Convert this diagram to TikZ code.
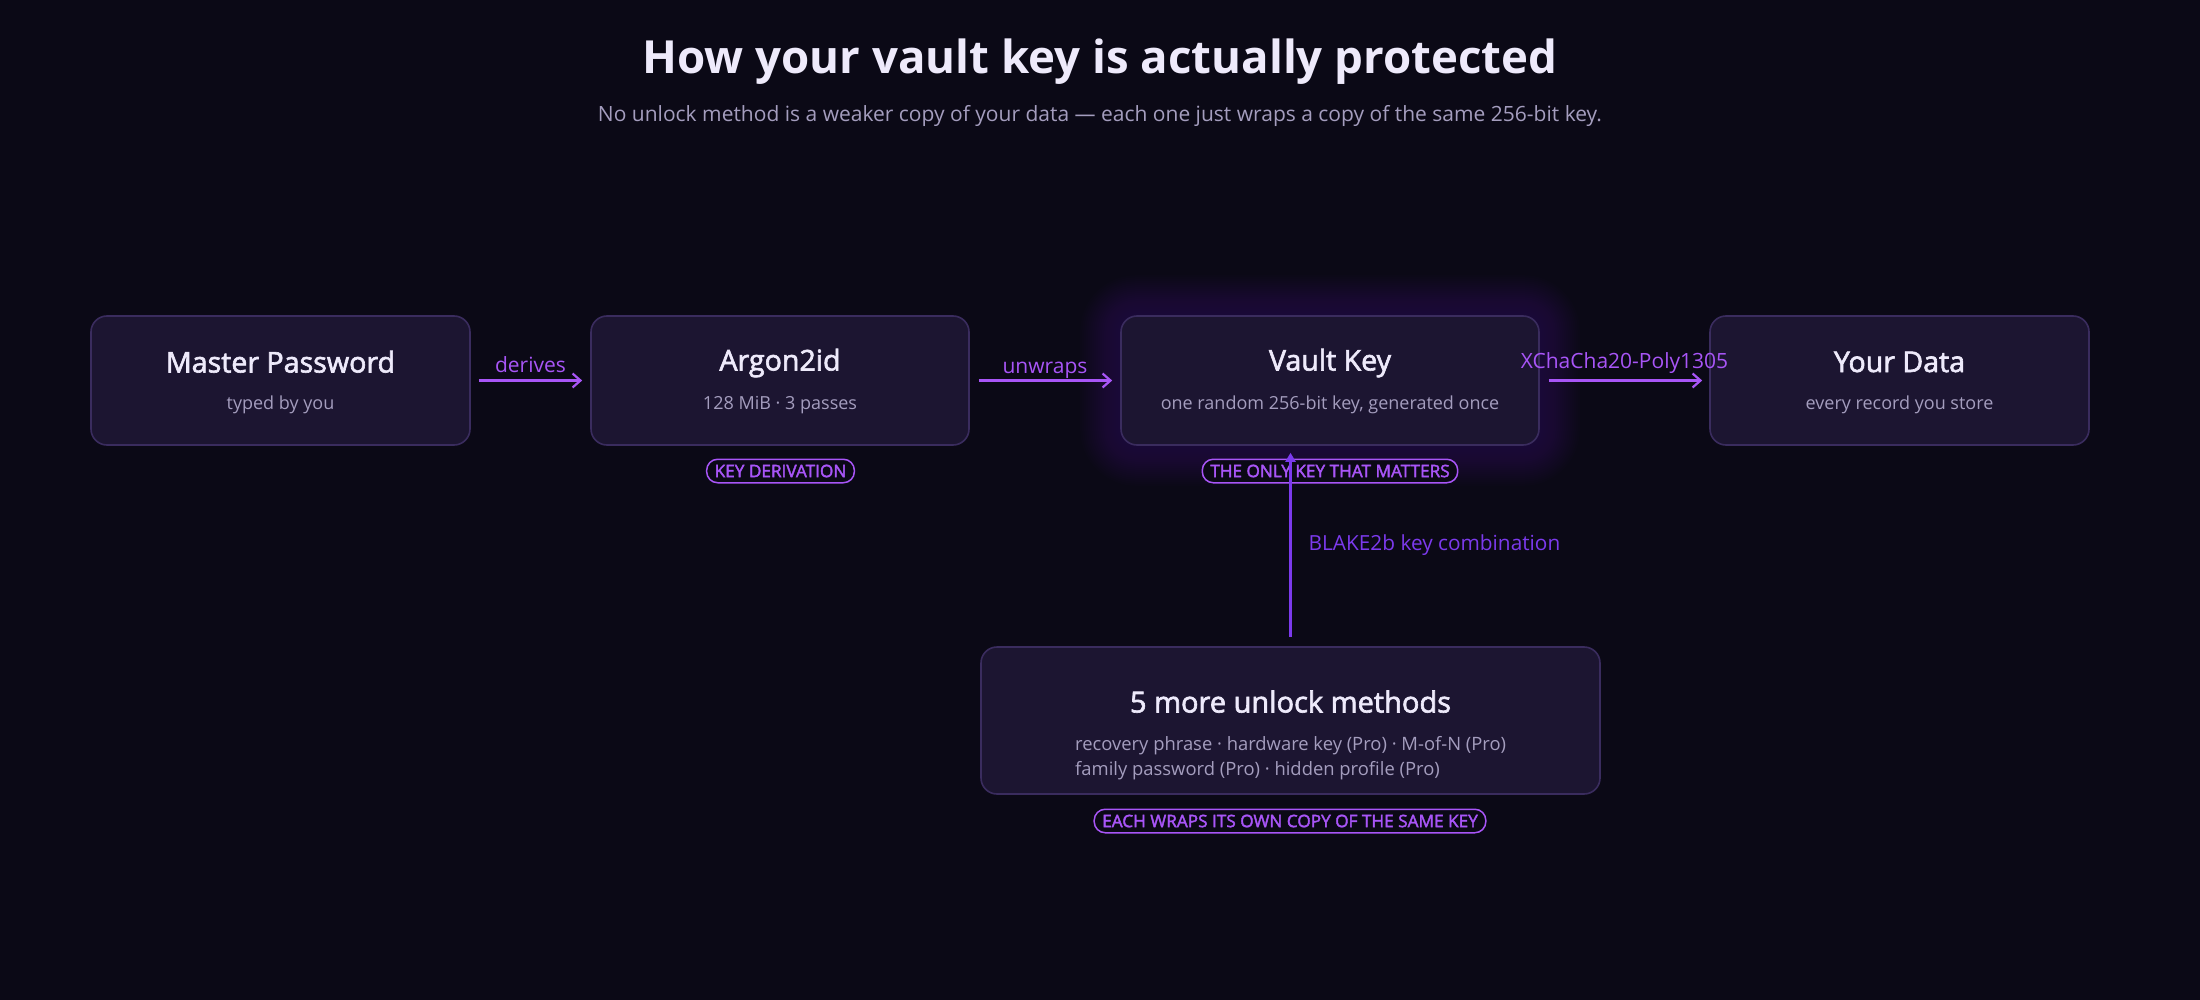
\documentclass[tikz,border=0pt]{standalone}
\usepackage{fontspec}
\setmainfont{Open Sans}
\newfontfamily\sbfont{Open Sans}[FakeBold=2.2]
\newfontfamily\bfont{Open Sans Bold}
\usetikzlibrary{arrows.meta,calc}
\definecolor{bgc}{HTML}{0B0916}
\definecolor{boxfill}{HTML}{1C1531}
\definecolor{boxline}{HTML}{3A2C5E}
\definecolor{titlec}{HTML}{EEEAFB}
\definecolor{subc}{HTML}{A49DBE}
\definecolor{arrowc}{HTML}{A855F7}
\definecolor{blakec}{HTML}{7C3AED}
\definecolor{glowc}{HTML}{6D28D9}
\pgfdeclarelayer{background}
\pgfsetlayers{background,main}
\tikzset{
  box/.style={draw=boxline, line width=1.6pt, fill=boxfill, rounded corners=16pt, inner sep=0pt},
  boxtitle/.style={text=titlec, anchor=base, inner sep=0pt, font=\sbfont\fontsize{28.6}{34}\selectfont},
  boxsub/.style={text=subc, anchor=base, inner sep=0pt, font=\fontsize{18}{22}\selectfont},
  pill/.style={draw=arrowc, line width=1.5pt, rounded corners=11pt, fill=bgc, text=arrowc,
    inner xsep=8pt, inner ysep=0pt, minimum height=23.5pt, font=\sbfont\fontsize{17.2}{17}\selectfont},
  flow/.style={draw=arrowc, line width=2.6pt, -{Straight Barb[length=8pt,width=14pt,line width=2.2pt]}},
  elabel/.style={text=arrowc, anchor=base, inner sep=0pt, font=\fontsize{21}{24}\selectfont},
}
\begin{document}
\begin{tikzpicture}[x=1pt,y=-1pt]
\begin{pgfonlayer}{background}
\fill[bgc] (0,0) rectangle (2200,1000);
\end{pgfonlayer}
\useasboundingbox (0,0) rectangle (2200,1000);

% title
\node[anchor=base, text=titlec, inner sep=0pt, font=\bfont\fontsize{45.6}{50}\selectfont] (title) at (1100,73.5) {How your vault key is actually protected};
\node[anchor=base, text=subc, inner sep=0pt, font=\fontsize{21}{24}\selectfont] (subtitle) at (1100,121.5) {No unlock method is a weaker copy of your data — each one just wraps a copy of the same 256-bit key.};

% boxes
\node[box, minimum width=379pt, minimum height=129pt] (mp) at (280.5,380.5) {};
\node[box, minimum width=378pt, minimum height=129pt] (ar) at (780,380.5) {};
\node[box, minimum width=418pt, minimum height=129pt] (vk) at (1330,380.5) {};
\node[box, minimum width=379pt, minimum height=129pt] (yd) at (1899.5,380.5) {};
\node[box, minimum width=619pt, minimum height=147pt] (bm) at (1290.5,720.5) {};

% glow behind vault key
\begin{pgfonlayer}{background}
\foreach \r in {2,4,...,40} {
  \fill[glowc, opacity=0.012, rounded corners=16pt+\r pt]
    ($(vk.south west)+(-\r,\r)$) rectangle ($(vk.north east)+(\r,-\r)$);
}
\end{pgfonlayer}

% box texts
\node[boxtitle] (mpt) at (280.5,372.5) {Master Password};
\node[boxsub] (mps) at (280.5,409) {typed by you};
\node[boxtitle] (art) at (780,370.5) {Argon2id};
\node[boxsub] (ars) at (780,409) {128 MiB · 3 passes};
\node[boxtitle] (vkt) at (1330,370.5) {Vault Key};
\node[boxsub] (vks) at (1330,409.5) {one random 256-bit key, generated once};
\node[boxtitle] (ydt) at (1899.5,372) {Your Data};
\node[boxsub] (yds) at (1899.5,409) {every record you store};
\node[boxtitle, font=\sbfont\fontsize{29}{34}\selectfont] (bmt) at (1290.5,712.5) {5 more unlock methods};
\node[boxsub, anchor=base west, align=left, font=\fontsize{18.4}{24.4}\selectfont] (bms) at (1075,775) {recovery phrase · hardware key (Pro) · M-of-N (Pro)\\family password (Pro) · hidden profile (Pro)};

% pills
\node[pill] (p1) at (780.5,471) {KEY DERIVATION};
\node[pill] (p2) at (1330,471) {THE ONLY KEY THAT MATTERS};
\node[pill] (p3) at (1290,821) {EACH WRAPS ITS OWN COPY OF THE SAME KEY};

% horizontal connectors
\draw[flow, shorten <=8pt, shorten >=8pt] (mp.east) -- (ar.west) node[elabel, pos=0.5, yshift=8pt] (l1) {derives};
\draw[flow, shorten <=9pt, shorten >=8pt] (ar.east) -- (vk.west) node[elabel, pos=0.5, yshift=7pt] (l2) {unwraps};
\draw[flow, shorten <=9pt, shorten >=7pt] (vk.east) -- (yd.west) node[elabel, pos=0.5, yshift=12pt] (l3) {XChaCha20-Poly1305};

% vertical connector
\draw[draw=blakec, line width=2.4pt, shorten <=9pt, shorten >=7pt, -{Triangle[length=9pt,width=10pt]}] (bm.north) -- (bm.north |- vk.south);
\node[anchor=base west, text=blakec, inner sep=0pt, font=\fontsize{20.8}{25}\selectfont] (l4) at (1308.5,550.5) {BLAKE2b key combination};
\end{tikzpicture}
\end{document}
